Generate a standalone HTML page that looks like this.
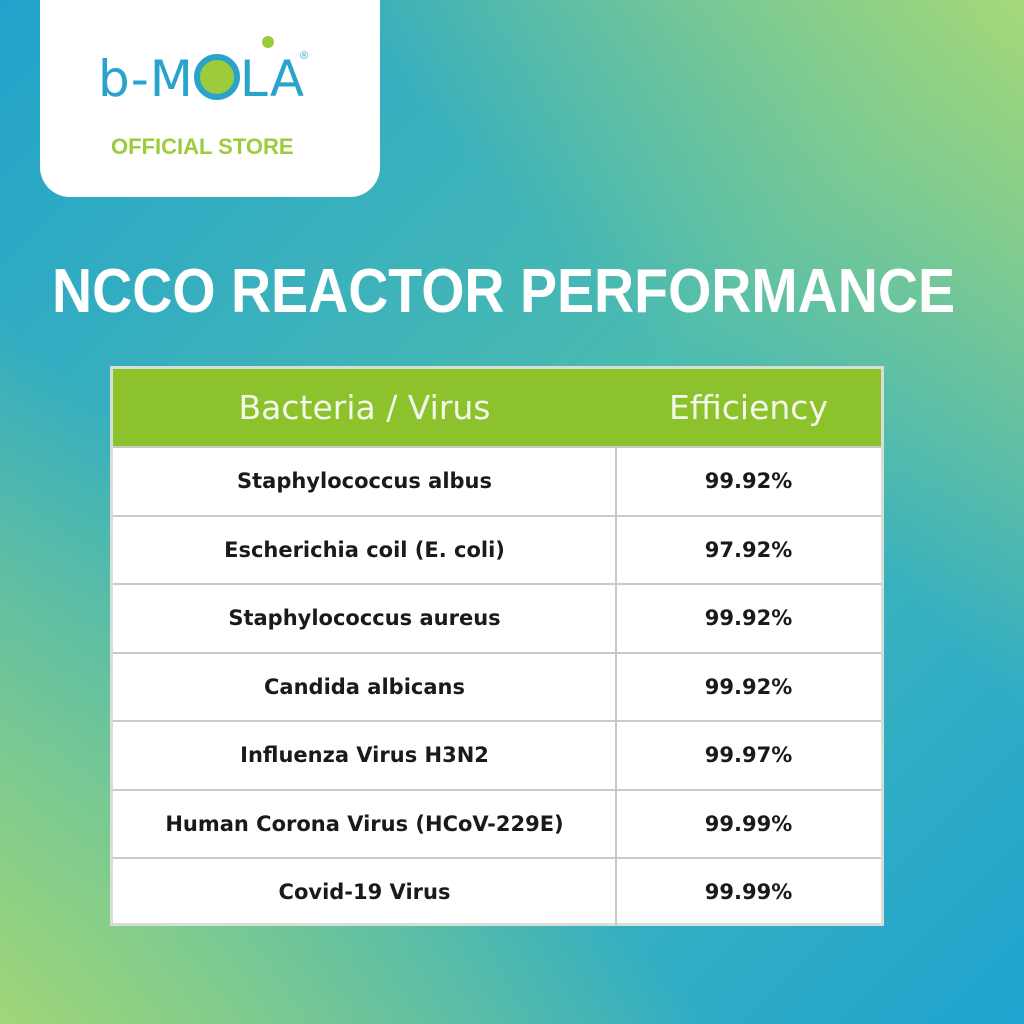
<!DOCTYPE html>
<html><head><style>
html,body{margin:0;padding:0;}
body{width:1024px;height:1024px;position:relative;overflow:hidden;font-family:"Liberation Sans",sans-serif;
background:
linear-gradient(45deg, rgba(160,214,120,1) 0%, rgba(160,214,120,0) 35%, rgba(160,214,120,0) 65%, rgba(165,216,120,1) 100%),
linear-gradient(135deg, #22a3cc 0%, #4cbbb0 50%, #1fa4d0 100%);}
.card{position:absolute;left:40px;top:-30px;width:340px;height:227px;background:#fff;border-radius:30px;}
.logo{position:absolute;left:98px;top:50px;font-size:50px;color:#2aa3cc;letter-spacing:1px;font-family:"DejaVu Sans",sans-serif;}
.os{position:absolute;left:111px;top:134px;font-size:22px;font-weight:bold;color:#9ccb3b;}
.tbl{position:absolute;left:110px;top:366px;width:774px;height:560px;background:#fff;border:3px solid #d8ddd8;box-sizing:border-box;font-family:"DejaVu Sans",sans-serif;}
.hd{position:absolute;left:0;top:0;width:768px;height:77px;background:#8cc22b;}
.hd div{position:absolute;top:0;line-height:77px;color:#f4f8ea;font-size:33px;text-align:center;}
.row{position:absolute;left:0;width:768px;height:68.5px;border-top:2px solid #c8ccc8;box-sizing:border-box;}
.row div{position:absolute;top:0;line-height:66px;font-weight:bold;font-size:21px;color:#1a1a1a;text-align:center;}
.c1{left:0;width:503px;}
.c2{left:503px;width:265px;}
.vline{position:absolute;left:502px;top:77px;width:2px;height:480px;background:#c8ccc8;}
</style></head><body>
<div class="card"></div>
<div class="logo">b-M<span style="display:inline-block;width:46px;height:46px;border:6px solid #2aa3cc;border-radius:50%;background:#9ccb3b;vertical-align:-4px;box-sizing:border-box"></span>LA</div>
<div style="position:absolute;left:262px;top:36px;width:12px;height:12px;border-radius:50%;background:#9ccb3b"></div>
<div style="position:absolute;left:300px;top:50px;font-size:11px;color:#2aa3cc">®</div>
<div class="os">OFFICIAL STORE</div>
<svg style="position:absolute;left:0;top:0" width="1024" height="340"><text x="52" y="312" font-family="Liberation Sans" font-weight="bold" font-size="62" fill="#fff" textLength="903" lengthAdjust="spacingAndGlyphs">NCCO REACTOR PERFORMANCE</text></svg>
<div class="tbl">
<div class="hd"><div class="c1">Bacteria / Virus</div><div class="c2">Efficiency</div></div>
<div class="row" style="top:77px"><div class="c1">Staphylococcus albus</div><div class="c2">99.92%</div></div>
<div class="row" style="top:145.5px"><div class="c1">Escherichia coil (E. coli)</div><div class="c2">97.92%</div></div>
<div class="row" style="top:214px"><div class="c1">Staphylococcus aureus</div><div class="c2">99.92%</div></div>
<div class="row" style="top:282.5px"><div class="c1">Candida albicans</div><div class="c2">99.92%</div></div>
<div class="row" style="top:351px"><div class="c1">Influenza Virus H3N2</div><div class="c2">99.97%</div></div>
<div class="row" style="top:419.5px"><div class="c1">Human Corona Virus (HCoV-229E)</div><div class="c2">99.99%</div></div>
<div class="row" style="top:488px"><div class="c1">Covid-19 Virus</div><div class="c2">99.99%</div></div>
<div class="vline"></div>
</div>
</body></html>
